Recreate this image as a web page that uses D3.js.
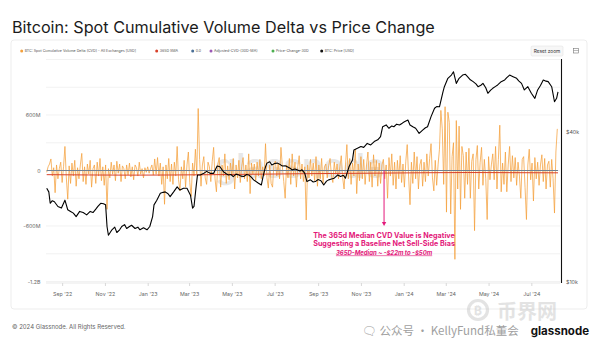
<!DOCTYPE html>
<html><head><meta charset="utf-8">
<script src="https://cdn.jsdelivr.net/npm/d3@7"></script>
<style>
body{margin:0;background:#fff;}
svg{display:block;font-family:Inter,Roboto,"Noto Sans",sans-serif;}
</style>
</head><body>
<svg id="c" width="600" height="346"></svg>
<script>
// ---------- DATA ----------
const startDate = "2022-08-10";
const endDate = "2024-08-08";
const cvdStepDays = 2;
// BTC spot CVD (millions USD), one value every 2 days from startDate
const cvdM = [
 -20,40,70,125,-60,30,-240,60,-90,20,
 90,-130,40,260,-80,-310,50,-140,80,-60,
 110,-170,30,-90,60,185,-120,40,-150,70,
 -40,110,-180,20,60,-140,90,-60,130,-110,
 40,-160,60,-420,20,-80,90,-40,60,-110,
 100,-30,70,-120,50,20,-90,60,-50,80,
 -70,40,-100,60,30,-60,90,-40,20,-80,
 30,-20,40,-30,20,60,-50,125,-40,140,
 -60,80,-150,40,-365,60,-90,130,-120,70,
 -150,90,-60,260,-100,-220,40,-90,110,-180,
 60,200,-130,-280,80,-60,230,-40,670,120,
 -170,60,150,-80,-150,90,40,-120,100,250,
 -90,-230,70,140,-180,60,-60,180,-140,50,
 -100,80,-60,130,-200,60,-80,110,-130,40,
 140,-90,60,-120,180,-250,80,-40,70,-110,
 90,-60,120,-90,40,-60,290,-80,-190,60,
 -140,-180,70,100,-60,80,-90,250,40,-120,
 -300,60,-80,130,-150,180,-60,90,-180,40,
 160,-90,70,-120,40,-535,60,-80,120,-60,
 80,-110,150,-170,60,-90,130,-140,40,70,
 -80,50,130,-60,-130,90,-40,70,-90,40,
 160,-80,-200,60,280,-90,130,-150,80,-60,
 230,-250,70,-110,150,-90,120,-150,60,200,
 -120,90,-180,170,-60,110,-170,80,-140,60,
 120,-90,60,-300,140,-60,180,-160,90,-200,
 110,-90,160,-130,70,-180,100,280,-60,-370,
 90,-140,200,-90,150,-200,60,120,-170,90,
 -120,180,-60,130,290,-80,-220,110,-160,60,
 230,650,450,-150,690,-450,630,520,-470,150,
 300,-960,540,-200,480,-420,260,160,-300,200,
 -150,240,-300,100,180,-650,120,270,-200,90,
 250,-160,120,-90,-530,150,-100,60,180,-100,
 260,-200,120,490,-230,80,-150,200,-230,60,
 260,-120,160,-80,140,-160,90,-60,-300,120,
 150,-180,-530,60,230,-100,80,-330,140,-90,
 90,-160,60,170,-120,130,-200,60,100,-180,
 120,-90,-460,200,450
];
// 365D SMA of CVD (millions USD)
const smaDays = [0,120,240,360,480,600,729];
const smaM = [-45,-50,-45,-35,-28,-22,-25];
// BTC price (thousand USD), day offsets from startDate
const priceDays = [0,3,5,8,11,16,21,26,30,34,38,42,47,52,57,62,66,70,73,77,81,84,86,88,93,97,100,104,107,111,114,118,121,126,130,133,138,143,147,151,153,157,162,166,169,173,176,181,186,190,195,200,205,208,210,213,215,219,224,228,233,238,243,247,252,256,259,263,266,270,274,277,281,285,288,292,295,302,306,309,312,314,318,321,325,329,333,336,340,343,347,350,354,357,361,364,368,371,376,380,383,387,391,395,399,402,406,410,415,419,423,426,431,436,438,443,448,452,457,462,467,472,476,479,484,488,492,495,499,503,507,510,515,518,522,526,531,536,540,543,548,553,556,560,565,567,572,577,580,584,588,593,597,600,604,608,612,615,619,622,626,629,633,636,640,643,648,653,656,660,665,670,673,677,681,686,691,696,700,704,708,712,715,720,724,727,729];
const priceK = [23.8,23.0,20.7,21.2,21.0,20.1,19.8,21.3,19.5,19.2,18.9,18.3,19.2,19.0,18.6,19.2,19.0,19.6,20.1,20.7,20.6,20.4,16.7,15.4,16.2,16.6,15.8,16.2,16.7,17.0,16.4,16.7,16.9,16.4,16.6,16.2,16.5,16.2,16.7,18.3,20.4,21.3,22.7,22.9,23.0,22.6,22.0,23.0,24.1,23.4,23.8,23.8,22.3,19.8,20.1,24.1,26.9,26.9,27.3,27.8,27.3,27.3,29.2,29.0,27.7,27.2,26.9,27.0,26.5,27.1,26.9,26.6,26.5,27.0,26.9,26.3,25.7,24.9,24.5,26.9,29.0,30.0,30.4,29.5,29.9,30.0,29.6,29.2,29.3,29.0,28.6,28.2,28.4,28.2,27.9,28.2,27.3,25.3,25.7,25.2,25.3,25.8,25.5,24.5,25.4,25.7,25.9,26.1,26.9,26.5,26.8,26.1,29.0,30.9,33.9,34.4,35.0,34.7,36.0,35.5,36.6,37.2,38.3,42.0,42.7,41.4,42.3,42.0,43.0,42.7,43.4,44.0,44.7,42.7,42.0,41.4,39.5,40.7,41.6,42.0,46.1,49.8,50.6,50.5,58.0,60.8,65.7,67.7,69.8,62.7,65.7,67.7,68.2,66.7,64.8,63.7,62.4,60.8,61.6,62.7,60.2,57.2,58.9,59.9,61.0,61.8,63.7,64.7,66.1,67.7,66.7,65.7,64.2,62.7,59.0,60.8,57.2,54.6,59.0,61.5,64.7,64.0,63.7,60.8,52.9,54.6,58.0];

const xTickDates = ["2022-09-01","2022-11-01","2023-01-01","2023-03-01","2023-05-01","2023-07-01","2023-09-01","2023-11-01","2024-01-01","2024-03-01","2024-05-01","2024-07-01"];
const xTickLabels = ["Sep '22","Nov '22","Jan '23","Mar '23","May '23","Jul '23","Sep '23","Nov '23","Jan '24","Mar '24","May '24","Jul '24"];
const yLeftTicks = [-1200,-600,0,600];
const yLeftLabels = ["-1.2B","-600M","0","600M"];
const yGridValues = [-1200,-900,-600,-300,0,300,600,900,1200];
const yRightTicks = [10,40];
const yRightLabels = ["$10k","$40k"];
const legendNames = ["BTC: Spot Cumulative Volume Delta (CVD) - All Exchanges [USD]","365D SMA","0.0","Adjusted-CVD-(30D-MA)","Price-Change-30D","BTC: Price [USD]"];
const legendColors = ["#f4a03c","#d8402a","#4a6f96","#9b59b6","#4caf50","#111111"];
const titleText = "Bitcoin: Spot Cumulative Volume Delta vs Price Change";
const annotationLines = ["The 365d Median CVD Value is Negative","Suggesting a Baseline Net Sell-Side Bias","365D-Median ~ -$22m to -$50m"];
const annotationDate = "2023-12-04";
const annotationArrowM = [0,-600];

// ---------- LAYOUT ----------
const svg = d3.select("#c");
const parse = d3.timeParse("%Y-%m-%d");
const t0 = parse(startDate);
const x = d3.scaleTime().domain([t0, parse(endDate)]).range([46.7, 558]);
const yL = d3.scaleLinear().domain([-1200,1200]).range([281.5,59.5]);
const yR = d3.scaleLog().domain([10,40]).range([282,132]);
const dayToDate = d => d3.timeDay.offset(t0, d);

// panel
svg.append("rect").attr("x",11).attr("y",40).attr("width",576).attr("height",269)
  .attr("rx",3).attr("fill","#fff").attr("stroke","#e8e8e8").attr("stroke-width",0.8);

// title
const title = svg.append("text").attr("x",12).attr("y",33).attr("fill","#1b1b1b")
  .attr("font-size",19).attr("font-weight",400).text(titleText);
{ const w = title.node().getComputedTextLength(); title.attr("font-size", 19*423/w); }

// legend
const legendX = [21.7,156.7,192.7,211,273,321.7];
const lg = svg.append("g").attr("font-size",4).attr("fill","#555");
const lt = [];
legendNames.forEach((n,i)=>{
  lg.append("circle").attr("cx",legendX[i]).attr("cy",51).attr("r",1.5).attr("fill",legendColors[i]);
  lt.push(lg.append("text").attr("x",legendX[i]+3).attr("y",52.4).text(n));
});
{ const w0 = lt[0].node().getComputedTextLength(); lg.attr("font-size", 4*112/w0); }

// reset zoom button
svg.append("rect").attr("x",531).attr("y",46).attr("width",32).attr("height",10).attr("rx",1.5)
  .attr("fill","#f7f7f7").attr("stroke","#dcdcdc").attr("stroke-width",0.5);
svg.append("text").attr("x",547).attr("y",52.8).attr("text-anchor","middle").attr("font-size",4.8).attr("fill","#333").text("Reset zoom");
svg.append("rect").attr("x",573.5).attr("y",48.5).attr("width",5).attr("height",4.5).attr("fill","none").attr("stroke","#777").attr("stroke-width",0.6);
svg.append("line").attr("x1",573.5).attr("x2",578.5).attr("y1",50.5).attr("y2",50.5).attr("stroke","#777").attr("stroke-width",0.5);

// gridlines
const grid = svg.append("g");
yGridValues.forEach(v=>{
  grid.append("line").attr("x1",46).attr("x2",560).attr("y1",yL(v)).attr("y2",yL(v))
    .attr("stroke","#ececec").attr("stroke-width",0.7);
});
grid.append("line").attr("x1",46).attr("x2",560).attr("y1",283).attr("y2",283).attr("stroke","#e0e0e0").attr("stroke-width",0.7);

// glassnode watermark
svg.append("text").attr("x",300).attr("y",178).attr("text-anchor","middle").attr("font-size",34)
  .attr("font-weight",600).attr("fill","#d0d0d0").attr("opacity",0.5).text("glassnode");

// left axis labels
const yAxisL = d3.axisLeft(yL).tickValues(yLeftTicks).tickFormat((d,i)=>yLeftLabels[i]).tickSize(0).tickPadding(0);
const gL = svg.append("g").attr("transform","translate(40.5,0)").call(yAxisL);
gL.select(".domain").remove();
gL.selectAll("text").attr("font-size",5.3).attr("fill","#666").attr("font-family","Inter,Roboto,sans-serif");

// right axis
const yAxisR = d3.axisRight(yR).tickValues(yRightTicks).tickFormat((d,i)=>yRightLabels[i]).tickSize(0).tickPadding(0);
const gR = svg.append("g").attr("transform","translate(566,0)").call(yAxisR);
gR.select(".domain").remove();
gR.selectAll("text").attr("font-size",5.3).attr("fill","#555").attr("font-family","Inter,Roboto,sans-serif");
svg.append("line").attr("x1",561.5).attr("x2",561.5).attr("y1",59).attr("y2",283).attr("stroke","#111").attr("stroke-width",1.1);

// x axis
const xAxis = d3.axisBottom(x).tickValues(xTickDates.map(parse)).tickFormat((d,i)=>xTickLabels[i]).tickSize(3).tickPadding(6);
const gX = svg.append("g").attr("transform","translate(0,283)").call(xAxis);
gX.select(".domain").remove();
gX.selectAll("line").attr("stroke","#d8d8d8");
gX.selectAll("text").attr("font-size",5.3).attr("fill","#666").attr("font-family","Inter,Roboto,sans-serif");

// CVD line
const cvdLine = d3.line().x((d,i)=>x(dayToDate(i*cvdStepDays))).y(d=>yL(d));
svg.append("path").attr("d",cvdLine(cvdM)).attr("fill","none").attr("stroke",legendColors[0]).attr("stroke-width",0.75).attr("stroke-linejoin","round");

// zero line (0.0 series)
svg.append("line").attr("x1",x(t0)).attr("x2",x(parse(endDate))).attr("y1",yL(0)).attr("y2",yL(0))
  .attr("stroke","#6f7f90").attr("stroke-width",1.1);
// SMA line
const smaLine = d3.line().x((d,i)=>x(dayToDate(smaDays[i]))).y(d=>yL(d)).curve(d3.curveMonotoneX);
svg.append("path").attr("d",smaLine(smaM)).attr("fill","none").attr("stroke",legendColors[1]).attr("stroke-width",1);

// price line
const priceLine = d3.line().x((d,i)=>x(dayToDate(priceDays[i]))).y(d=>yR(d));
svg.append("path").attr("d",priceLine(priceK)).attr("fill","none").attr("stroke","#000").attr("stroke-width",1.1).attr("stroke-linejoin","round");

// annotation
const ax = x(parse(annotationDate));
const pink = "#e3187a";
svg.append("line").attr("x1",ax).attr("x2",ax).attr("y1",yL(annotationArrowM[0])).attr("y2",yL(annotationArrowM[1])-3)
  .attr("stroke",pink).attr("stroke-width",1);
const ay = yL(annotationArrowM[1]);
svg.append("path").attr("d",`M${ax-2.2},${ay-4}L${ax+2.2},${ay-4}L${ax},${ay}Z`).attr("fill",pink);
const an = svg.append("g").attr("fill",pink).attr("text-anchor","middle").attr("font-weight",700);
an.append("text").attr("x",ax).attr("y",238).attr("font-size",7.2).text(annotationLines[0]);
an.append("text").attr("x",ax).attr("y",246.3).attr("font-size",7.2).text(annotationLines[1]);
an.append("text").attr("x",ax).attr("y",254.5).attr("font-size",6).attr("font-style","italic").attr("text-decoration","underline").text(annotationLines[2]);

// footer
svg.append("text").attr("x",12).attr("y",329).attr("font-size",6).attr("fill","#666").text("© 2024 Glassnode. All Rights Reserved.");
// repost watermarks
const wm = svg.append("g").attr("opacity",0.5);
wm.append("circle").attr("cx",478).attr("cy",310).attr("r",9.5).attr("fill","none").attr("stroke","#c8c8c8").attr("stroke-width",3.2);
wm.append("text").attr("x",478).attr("y",314.5).attr("text-anchor","middle").attr("font-size",12).attr("font-weight",700).attr("fill","#c8c8c8").text("₿");
wm.append("text").attr("x",497).attr("y",319).attr("font-size",20).attr("font-weight",700).attr("fill","#c8c8c8").attr("font-family","Noto Sans CJK SC").text("币界网");
svg.append("text").attr("x",362).attr("y",335).attr("font-size",11.5).attr("fill","#a0a0a0").attr("font-family","Noto Sans CJK SC").text("🗨 公众号 · KellyFund私董会");
svg.append("text").attr("x",589).attr("y",335).attr("text-anchor","end").attr("font-size",11.5).attr("font-weight",700).attr("fill","#111").text("glassnode");
</script>
</body></html>
